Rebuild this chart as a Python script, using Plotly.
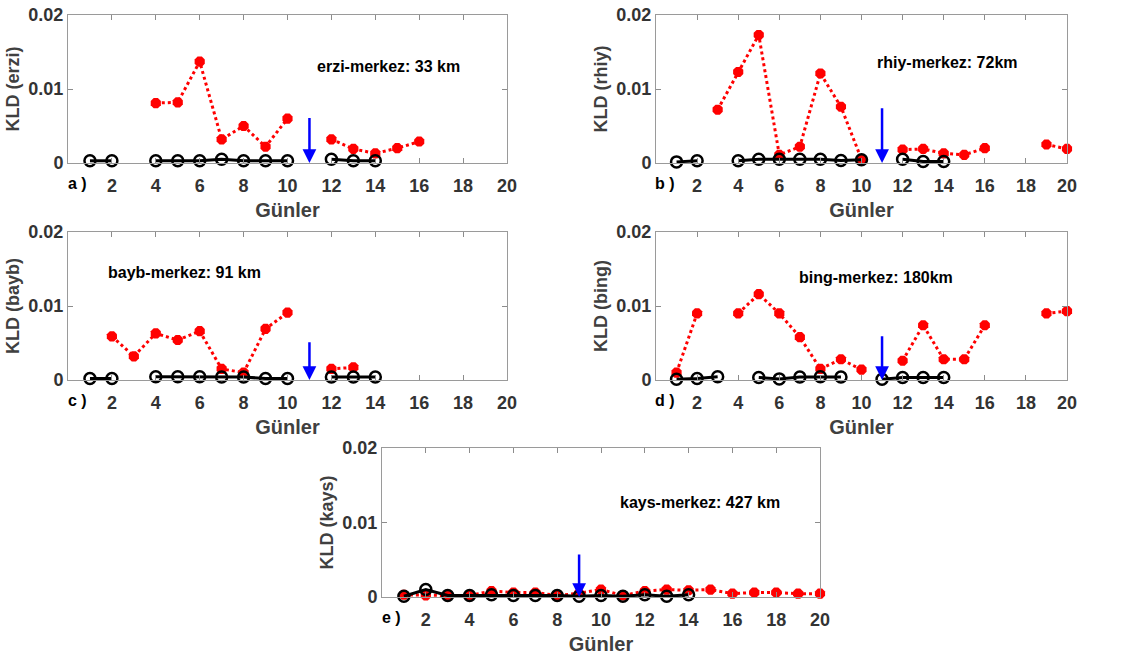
import plotly.graph_objects as go

days = list(range(1, 21))
N = None

erzi_red = [N, N, N, 0.0081, 0.0082, 0.0137, 0.0032, 0.0050, 0.0022, 0.0060, N, 0.0032, 0.0019, 0.0013, 0.0020, 0.0029, N, N, N, N]
erzi_black = [0.0003, 0.0003, N, 0.0003, 0.0003, 0.0003, 0.0005, 0.0003, 0.0003, 0.0003, N, 0.0005, 0.0003, 0.0003, N, N, N, N, N, N]

rhiy_red = [N, N, 0.0072, 0.0123, 0.0173, 0.0011, 0.0022, 0.0121, 0.0076, 0.0005, N, 0.0018, 0.0019, 0.0013, 0.0011, 0.0020, N, N, 0.0025, 0.0019]
rhiy_black = [0.00015, 0.0003, N, 0.0003, 0.0005, 0.0005, 0.0005, 0.0005, 0.00035, 0.00045, N, 0.0005, 0.0002, 0.0002, N, N, N, N, N, N]

bayb_red = [N, 0.0059, 0.0032, 0.0063, 0.0054, 0.0066, 0.0015, 0.0010, 0.0069, 0.0091, N, 0.0015, 0.0017, N, N, N, N, N, N, N]
bayb_black = [0.0002, 0.0002, N, 0.00045, 0.00045, 0.00045, 0.0004, 0.0004, 0.0002, 0.0002, N, 0.0004, 0.0004, 0.0004, N, N, N, N, N, N]

bing_red = [0.0010, 0.0090, N, 0.0090, 0.0116, 0.0090, 0.0058, 0.0015, 0.0028, 0.0014, N, 0.0026, 0.0074, 0.0028, 0.0028, 0.0074, N, N, 0.0090, 0.0093]
bing_black = [0.0001, 0.0002, 0.00045, N, 0.00035, 0.00015, 0.0004, 0.00045, 0.0004, N, 0.0001, 0.00035, 0.00035, 0.00035, N, N, N, N, N, N]

kays_red = [0.0003, 0.0002, 0.0002, 0.0002, 0.0008, 0.0006, 0.0006, 0.0002, 0.0005, 0.0010, 0.0002, 0.0008, 0.0010, 0.0009, 0.0010, 0.00045, 0.0006, 0.0006, 0.00045, 0.00045]
kays_black = [0.0001, 0.0010, 0.0002, 0.0002, 0.0003, 0.0002, 0.0002, 0.0002, 0.0001, 0.0002, 0.0001, 0.0003, 0.0001, 0.0003, N, N, N, N, N, N]

stations = ["erzi", "rhiy", "bayb", "bing", "kays"]
panel_letters = ["a )", "b )", "c )", "d )", "e )"]
distance_labels = ["erzi-merkez: 33 km", "rhiy-merkez: 72km", "bayb-merkez: 91 km", "bing-merkez: 180km", "kays-merkez: 427 km"]
label_pos = [(14.6, 0.0130), (14.2, 0.0136), (5.3, 0.0145), (10.7, 0.0138), (14.5, 0.0127)]
arrow_day = [11, 11, 11, 11, 9]
arrow_top = [0.0063, 0.0076, 0.0053, 0.0061, 0.0059]
red_series = [erzi_red, rhiy_red, bayb_red, bing_red, kays_red]
black_series = [erzi_black, rhiy_black, bayb_black, bing_black, kays_black]

x_ticks = list(range(2, 21, 2))
y_ticks = [0, 0.01, 0.02]
y_ticktext = ["0", "0.01", "0.02"]

W, H = 1135, 656
# panel boxes in pixels: (left, right, top, bottom)
boxes = [(68, 507, 15, 163), (656, 1067, 15, 163), (68, 507, 232, 380), (656, 1067, 232, 380), (382, 820, 448, 597)]

NARROW = "Liberation Sans Narrow, Arial Narrow, sans-serif"
WIDE = "Liberation Sans, Arial, sans-serif"

fig = go.Figure()
layout = dict(
    width=W, height=H, margin=dict(l=0, r=0, t=0, b=0, autoexpand=False),
    paper_bgcolor="white", plot_bgcolor="white", showlegend=False,
    annotations=[],
)

for i in range(5):
    xa = "x" if i == 0 else f"x{i+1}"
    ya = "y" if i == 0 else f"y{i+1}"
    fig.add_trace(go.Scatter(
        x=days, y=red_series[i], xaxis=xa, yaxis=ya, mode="lines+markers",
        line=dict(color="#ff0000", width=3, dash="dot"),
        marker=dict(symbol="octagon", size=11, color="#ff0000"),
        connectgaps=False, hoverinfo="skip", cliponaxis=False))
    fig.add_trace(go.Scatter(
        x=days, y=black_series[i], xaxis=xa, yaxis=ya, mode="lines+markers",
        line=dict(color="#000000", width=3),
        marker=dict(symbol="circle-open", size=11, color="#000000", line=dict(width=2.5)),
        connectgaps=False, hoverinfo="skip", cliponaxis=False))

    l, r, t, b = boxes[i]
    xk = "xaxis" if i == 0 else f"xaxis{i+1}"
    yk = "yaxis" if i == 0 else f"yaxis{i+1}"
    layout[xk] = dict(
        domain=[l / W, r / W], anchor=ya, range=[0, 20], automargin=False,
        tickvals=x_ticks, ticktext=[str(v) for v in x_ticks],
        ticks="inside", ticklen=5, tickcolor="#8c8c8c", ticklabeloverflow="allow",
        showline=True, mirror="ticks", linecolor="#9a9a9a", linewidth=1,
        showgrid=False, zeroline=False, ticklabelstandoff=6,
        tickfont=dict(family=NARROW, size=18, color="#333333", weight="bold"),
        title=dict(text="Günler", standoff=8,
                   font=dict(family=NARROW, size=20, color="#404040", weight="bold")),
    )
    layout[yk] = dict(
        domain=[1 - b / H, 1 - t / H], anchor=xa, range=[0, 0.02], automargin=False,
        tickvals=y_ticks, ticktext=y_ticktext,
        ticks="inside", ticklen=5, tickcolor="#8c8c8c", ticklabeloverflow="allow",
        showline=True, mirror="ticks", linecolor="#9a9a9a", linewidth=1,
        showgrid=False, zeroline=False,
        tickfont=dict(family=NARROW, size=18, color="#333333", weight="bold"),
        title=dict(text=f"KLD ({stations[i]})", standoff=4,
                   font=dict(family=WIDE, size=18, color="#404040", weight="bold")),
    )
    # distance label
    layout["annotations"].append(dict(
        x=label_pos[i][0], y=label_pos[i][1], xref=xa, yref=ya, text=distance_labels[i],
        showarrow=False, font=dict(family=NARROW, size=16, color="#000000", weight="bold")))
    # panel letter
    layout["annotations"].append(dict(
        x=0.45, y=(1 - (b + 20) / H), xref=xa, yref="paper", yanchor="middle",
        text=panel_letters[i],
        showarrow=False, font=dict(family=NARROW, size=16, color="#000000", weight="bold")))
    # blue arrow
    layout["annotations"].append(dict(
        x=arrow_day[i], y=0, ax=arrow_day[i], ay=arrow_top[i], xref=xa, yref=ya,
        axref=xa, ayref=ya, showarrow=True, arrowhead=2, arrowsize=1.1, arrowwidth=2.5,
        arrowcolor="#0000ff", standoff=0, text=""))

fig.update_layout(**layout)
fig.write_html("out.html", config={"displayModeBar": False},
               post_script="document.body.style.margin='0';document.body.style.overflow='hidden';")
